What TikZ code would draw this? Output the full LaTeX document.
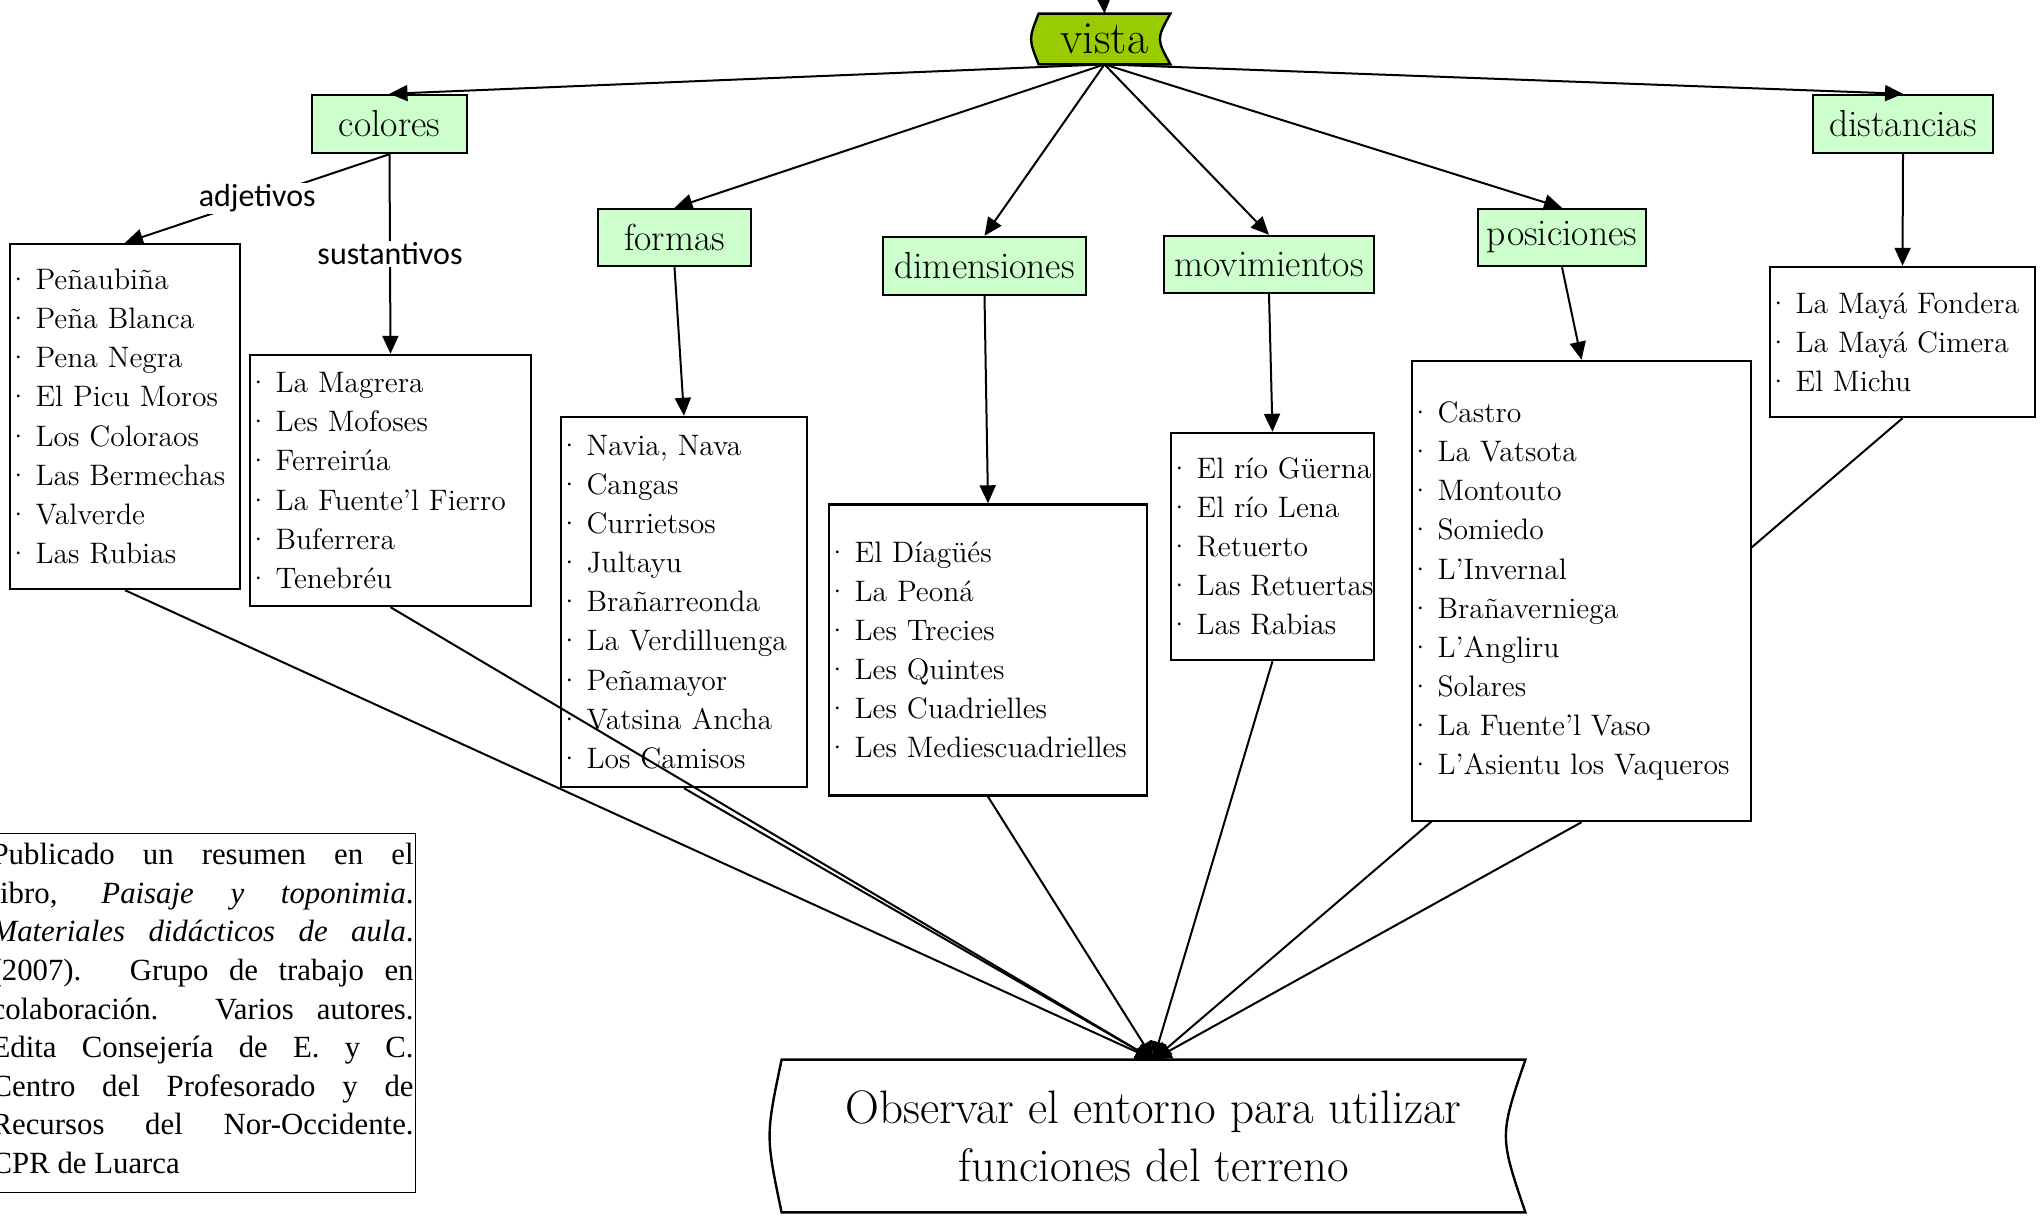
\documentclass[tikz,border=0pt]{standalone}
\usepackage{fontspec}
\newfontfamily\calibrifont{Carlito}
\newfontfamily\timesfont{Liberation Serif}
\usetikzlibrary{arrows.meta,calc}
\pgfdeclarelayer{background}
\pgfsetlayers{background,main}
\definecolor{catgreen}{HTML}{CCFFCC}
\definecolor{vistagreen}{HTML}{99CC00}
\newcommand{\itm}[1]{\mbox{\kern-4pt·\kern3pt #1}}
\newcommand{\jline}[1]{\makebox[211pt][s]{#1}}
\begin{document}
\begin{tikzpicture}[x=0.5pt,y=-0.5pt,
  conn/.style={line width=1pt,-{Triangle[length=9pt,width=8pt]}},
  cat/.style={draw, line width=1.2pt, fill=catgreen, font=\fontsize{18.8}{22}\selectfont, inner sep=0pt},
  listbox/.style={draw, line width=1.2pt, fill=white, align=left, font=\fontsize{14.8}{19.55}\selectfont, inner xsep=2.5pt, inner ysep=0pt},
  lbl/.style={fill=white, font=\calibrifont\fontsize{16}{19}\selectfont, inner sep=1pt},
]
\useasboundingbox (0,0) rectangle (2044,1216);

% top node
\node[draw=none, minimum width=65.5pt, minimum height=25pt, inner sep=0pt, font=\fontsize{23}{26}\selectfont] (vista) at (1104.5,39) {vista};
\coordinate (topin) at (1102,-30);

% categories
\node[cat, minimum width=77.5pt, minimum height=29pt] (colores) at (389.5,124) {colores};
\node[cat, minimum width=90pt, minimum height=29pt] (distancias) at (1903,124) {distancias};
\node[cat, minimum width=76.5pt, minimum height=28.5pt] (formas) at (674.5,237.5) {formas};
\node[cat, minimum width=101.5pt, minimum height=29pt] (dimensiones) at (984.5,266) {dimensiones};
\node[cat, minimum width=105pt, minimum height=28.5pt] (movimientos) at (1269,264.5) {movimientos};
\node[cat, minimum width=84pt, minimum height=28.5pt] (posiciones) at (1562,237.5) {posiciones};

% lists
\node[listbox, text width=110pt, minimum height=172.5pt] (adj) at (125,416.5) {\itm{Peñaubiña}\\ \itm{Peña Blanca}\\ \itm{Pena Negra}\\ \itm{El Picu Moros}\\ \itm{Los Coloraos}\\ \itm{Las Bermechas}\\ \itm{Valverde}\\ \itm{Las Rubias}};
\node[listbox, text width=135.5pt, minimum height=125.5pt] (sust) at (390.5,480.5) {\itm{La Magrera}\\ \itm{Les Mofoses}\\ \itm{Ferreirúa}\\ \itm{La Fuente’l Fierro}\\ \itm{Buferrera}\\ \itm{Tenebréu}};
\node[listbox, text width=118pt, minimum height=185pt] (flist) at (684,602) {\itm{Navia, Nava}\\ \itm{Cangas}\\ \itm{Currietsos}\\ \itm{Jultayu}\\ \itm{Brañarreonda}\\ \itm{La Verdilluenga}\\ \itm{Peñamayor}\\ \itm{Vatsina Ancha}\\ \itm{Los Camisos}};
\node[listbox, text width=154pt, minimum height=145.5pt] (dlist) at (988,650) {\itm{El Díagüés}\\ \itm{La Peoná}\\ \itm{Les Trecies}\\ \itm{Les Quintes}\\ \itm{Les Cuadrielles}\\ \itm{Les Mediescuadrielles}};
\node[listbox, text width=96.5pt, minimum height=113.5pt] (mlist) at (1272.5,546.5) {\itm{El río Güerna}\\ \itm{El río Lena}\\ \itm{Retuerto}\\ \itm{Las Retuertas}\\ \itm{Las Rabias}};
\node[listbox, text width=164.5pt, minimum height=230pt] (plist) at (1581.5,591) {\itm{Castro}\\ \itm{La Vatsota}\\ \itm{Montouto}\\ \itm{Somiedo}\\ \itm{L’Invernal}\\ \itm{Brañaverniega}\\ \itm{L’Angliru}\\ \itm{Solares}\\ \itm{La Fuente’l Vaso}\\ \itm{L’Asientu los Vaqueros}};
\node[listbox, text width=127.5pt, minimum height=75pt] (dislist) at (1902.5,342) {\itm{La Mayá Fondera}\\ \itm{La Mayá Cimera}\\ \itm{El Michu}};

% final node
\node[draw=none, minimum width=371.5pt, minimum height=76pt, inner sep=0pt, align=center, font=\fontsize{23.5}{29}\selectfont] (final) at (1153.5,1136) {Observar el entorno para utilizar\\ funciones del terreno};

% note (box, then its text)
\node[draw, line width=0.6pt, anchor=north east, minimum width=222pt, minimum height=179.5pt, inner sep=0pt] (note) at (416,833) {};
\node[anchor=north east, inner sep=0pt, align=left, font=\timesfont\fontsize{15.4}{19.3}\selectfont] (notetext) at (414,843) {\jline{Publicado un resumen en el}\\ \jline{libro, \textit{Paisaje y toponimia}.}\\ \jline{\textit{Materiales didácticos de aula}.}\\ \jline{(2007). Grupo de trabajo en}\\ \jline{colaboración. Varios autores.}\\ \jline{Edita Consejería de E. y C.}\\ \jline{Centro del Profesorado y de}\\ \jline{Recursos del Nor-Occidente.}\\ CPR de Luarca};

% shapes behind
\begin{pgfonlayer}{background}
\filldraw[fill=vistagreen, line width=1.2pt] (vista.north west) -- (vista.north east) .. controls ($(vista.east)+(-14,0)$) .. (vista.south east) -- (vista.south west) .. controls ($(vista.west)+(-10,0)$) .. cycle;
\draw[line width=1.2pt] (final.north west) -- (final.north east) .. controls ($(final.east)+(-26,0)$) .. (final.south east) -- (final.south west) .. controls ($(final.west)+(-16,0)$) .. cycle;
\draw[conn] (dislist.south) -- (final.north);
\end{pgfonlayer}

% connectors
\draw[conn] (topin) -- (vista.north);
\draw[conn] (vista.south) -- (colores.north);
\draw[conn] (vista.south) -- (distancias.north);
\draw[conn] (vista.south) -- (formas.north);
\draw[conn] (vista.south) -- (dimensiones.north);
\draw[conn] (vista.south) -- (movimientos.north);
\draw[conn] (vista.south) -- (posiciones.north);

\draw[conn] (colores.south) -- node[lbl]{adjetivos} (adj.north);
\draw[conn] (colores.south) -- node[lbl]{sustantivos} (sust.north);
\draw[conn] (formas.south) -- (flist.north);
\draw[conn] (dimensiones.south) -- (dlist.north);
\draw[conn] (movimientos.south) -- (mlist.north);
\draw[conn] (posiciones.south) -- (plist.north);
\draw[conn] (distancias.south) -- (dislist.north);

\draw[conn] (adj.south) -- (final.north);
\draw[conn] (sust.south) -- (final.north);
\draw[conn] (flist.south) -- (final.north);
\draw[conn] (dlist.south) -- (final.north);
\draw[conn] (mlist.south) -- (final.north);
\draw[conn] (plist.south) -- (final.north);
\end{tikzpicture}
\end{document}
